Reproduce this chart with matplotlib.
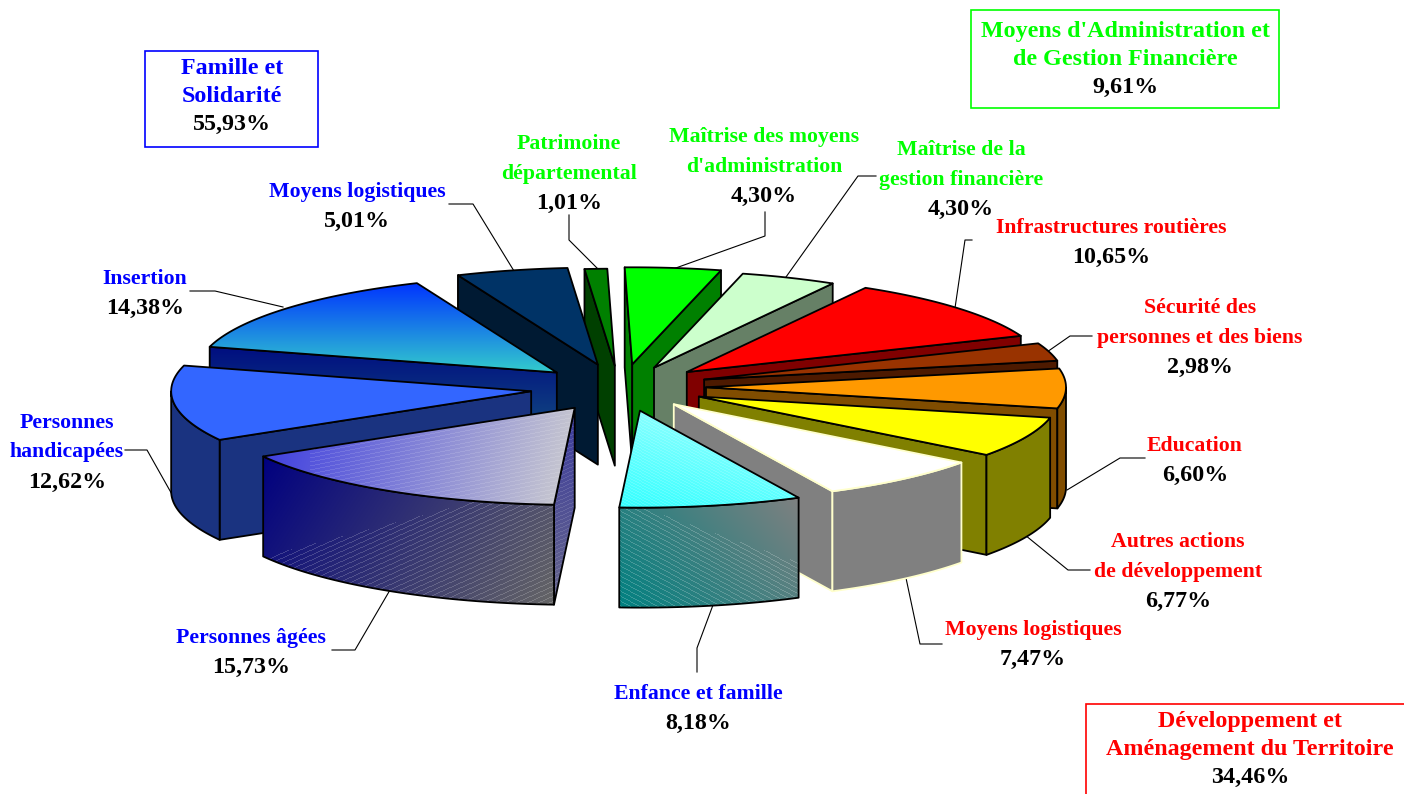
import numpy as np
import matplotlib
matplotlib.use('Agg')
import matplotlib.pyplot as plt
from matplotlib.colors import to_rgb
from matplotlib.patches import Polygon, Rectangle

plt.rcParams['font.family'] = ['Liberation Serif', 'DejaVu Serif']

# slices, clockwise from the top
names = ["Maîtrise des moyens\nd'administration", "Maîtrise de la\ngestion financière",
         "Infrastructures routières", "Sécurité des\npersonnes et des biens", "Education",
         "Autres actions\nde développement", "Moyens logistiques", "Enfance et famille",
         "Personnes âgées", "Personnes\nhandicapées", "Insertion", "Moyens logistiques",
         "Patrimoine\ndépartemental"]
values = [4.30, 4.30, 10.65, 2.98, 6.60, 6.77, 7.47, 8.18, 15.73, 12.62, 14.38, 5.01, 1.01]

groups = ["Famille et\nSolidarité", "Moyens d'Administration et\nde Gestion Financière",
          "Développement et\nAménagement du Territoire"]
group_values = [55.93, 9.61, 34.46]

# style
LIME, BLUE, RED = '#00ff00', '#0000ff', '#ff0000'
text_colors = [LIME, LIME, RED, RED, RED, RED, RED, BLUE, BLUE, BLUE, BLUE, BLUE, LIME]
top_colors = ['#00ff00', '#ccffcc', '#ff0000', '#993300', '#ff9900', '#ffff00', '#ffffff',
              '#66ffff', '#8888dd', '#3366ff', '#1188dd', '#003366', '#008000']
side_colors = ['#008000', '#668066', '#800000', '#4d1a00', '#804d00', '#808000', '#808080',
               '#5a8080', '#444488', '#1a3380', '#001a80', '#001a33', '#004000']
explode = [0.225, 0.215, 0.235, 0.235, 0.225, 0.235, 0.23, 0.28, 0.24, 0.26, 0.25, 0.28, 0.22]
# small extra pull of each slice, pixels
nudge = [(-2, -1), (0, 0), (-2, 0), (-2, -1), (0, 0), (-3, 0), (-4, 0), (-5, -3), (-5, 1),
         (-1, 1), (-0.5, 1.5), (-3, 4), (-6, 0)]
edge_colors = ['k'] * 13
edge_colors[6] = '#ffffcc'

CX, CY = 625, 387
RX, RY = 360, 97
DEPTH = 100
ROT = -1.2

# label centres (x, y of the first line), leader polylines
label_pos = [(764, 137), (961, 150), (1111, 228), (1200, 308), (1195, 446), (1178, 542),
             (1033, 630), (698, 694), (251, 638), (67, 423), (145, 279), (357, 192), (569, 144)]
leaders = [[(765, 212), (765, 236), (673, 269)], [(876, 176), (858, 176), (786, 277)],
           [(972, 240), (965, 240), (955, 308)], [(1092, 336), (1070, 336), (1047, 352)],
           [(1145, 458), (1120, 458), (1067, 490)], [(1090, 570), (1068, 570), (1025, 535)],
           [(942, 644), (920, 644), (906, 578)], [(697, 672), (697, 648), (713, 605)],
           [(332, 650), (355, 650), (390, 590)], [(125, 450), (147, 450), (178, 505)],
           [(190, 291), (215, 291), (283, 307)], [(449, 204), (473, 204), (514, 271)],
           [(569, 215), (569, 240), (597, 268)]]
box_pos = [(145, 51, 173, 96, 232, 69), (971, 10, 308, 98, 1125, 32), (1086, 704, 340, 110, 1250, 722)]
box_colors = [BLUE, LIME, RED]

fig = plt.figure(figsize=(14.04, 7.94), dpi=100)
ax = fig.add_axes([0, 0, 1, 1])
ax.set_autoscale_on(False)
ax.set_xlim(0, 1404)
ax.set_ylim(794, 0)
ax.axis('off')


def pct(v):
    return f"{v:.2f}".replace('.', ',') + '%'


def norm01(a):
    return (a - a.min()) / (a.max() - a.min())


def shade(verts, c0, c1, d, z, stripe=None):
    # gradient (optional fine stripes) clipped to a polygon
    verts = np.array(verts)
    x0, y0 = np.floor(verts.min(axis=0)).astype(int)
    x1, y1 = np.ceil(verts.max(axis=0)).astype(int)
    X, Y = np.meshgrid(np.arange(x0, x1 + 1), np.arange(y0, y1 + 1))
    t = norm01((X - x0) * d[0] + (Y - y0) * d[1])
    img = np.array(to_rgb(c0)) + t[..., None] * (np.array(to_rgb(c1)) - np.array(to_rgb(c0)))
    if stripe:
        slope, period, amt, sd, tmin = stripe
        keep = norm01((X - x0) * sd[0] + (Y - y0) * sd[1]) > tmin
        m = ((Y - slope * X) % period < 1.0) & keep
        img[m] = img[m] * (1 - amt) + amt
    im = ax.imshow(img, extent=(x0 - .5, x1 + .5, y1 + .5, y0 - .5), zorder=z,
                   interpolation='nearest', aspect='auto')
    im.set_clip_path(Polygon(verts, transform=ax.transData))


# gradient faces: slice index -> face -> (start colour, end colour, direction, stripes)
shaded = {
    7: {'top': ('#33ffff', '#aaffff', (0.25, -1), (0.55, 3, 0.15, (1, 0), 0)),
        'arc': ('#008080', '#808080', (1, -0.85), (0.55, 5, 0.2, (-0.35, 1), 0.38))},
    8: {'top': ('#3a3ae0', '#cfcfcf', (1, 0.25), (-0.2, 4, 0.12, (1, 0), 0.15)),
        'arc': ('#000080', '#666666', (1, 0.65), (-0.45, 5, 0.18, (0.26, 1), 0.45)),
        'start': ('#3c3ca0', '#66668a', (0, 1), (-0.45, 4, 0.12, (0, 1), 0))},
    10: {'top': ('#0033ff', '#33cccc', (0, 1), None),
         'start': ('#000d80', '#1a6680', (0, 1), None)},
}


def face(verts, i, kind, base, z):
    spec = shaded.get(i, {}).get(kind)
    if spec:
        shade(verts, spec[0], spec[1], spec[2], z, spec[3])
        ax.add_patch(Polygon(verts, fc='none', ec=edge_colors[i], lw=1.3, zorder=z + 0.5,
                             joinstyle='round'))
    else:
        ax.add_patch(Polygon(verts, fc=base, ec=edge_colors[i], lw=1.3, zorder=z + 0.5,
                             joinstyle='round'))


edges = np.cumsum([0] + values) * 3.6
mids = (edges[:-1] + edges[1:]) / 2


def point(th, rho, i):
    a, m = np.radians(th + ROT), np.radians(mids[i] + ROT)
    e = explode[i]
    return (CX + nudge[i][0] + RX * (rho * np.sin(a) + e * np.sin(m)),
            CY + nudge[i][1] - RY * (rho * np.cos(a) + e * np.cos(m)))


for i in sorted(range(len(values)), key=lambda k: -np.cos(np.radians(mids[k]))):
    z = 10 + 10 * (1 - np.cos(np.radians(mids[i]))) * 5
    th0, th1 = edges[i], edges[i + 1]
    ths = np.linspace(th0, th1, 60)
    apex = point(th0, 0, i)
    down = lambda p: (p[0], p[1] + DEPTH)
    # radial faces turned toward the viewer
    if np.sin(np.radians(th0 + ROT)) < 0:
        p = point(th0, 1, i)
        face([apex, p, down(p), down(apex)], i, 'start', side_colors[i], z)
    if np.sin(np.radians(th1 + ROT)) > 0:
        p = point(th1, 1, i)
        face([apex, p, down(p), down(apex)], i, 'end', side_colors[i], z + 1)
    # outer wall, front half only
    front = ths[np.cos(np.radians(ths + ROT)) < 0]
    if len(front) > 1:
        rim = [point(t, 1, i) for t in front]
        face(rim + [down(p) for p in rim[::-1]], i, 'arc', side_colors[i], z + 2)
    # top
    face([apex] + [point(t, 1, i) for t in ths], i, 'top', top_colors[i], z + 3)

# leaders
for pts in leaders:
    xs, ys = zip(*pts)
    ax.plot(xs, ys, color='k', lw=0.8, zorder=2)

LINE = 29.5
FS = 15.7
FS_BIG = 17.3
for name, v, col, (x, y) in zip(names, values, text_colors, label_pos):
    lines = name.split('\n')
    for j, s in enumerate(lines):
        ax.text(x, y + j * LINE, s, color=col, fontsize=FS, fontweight='bold', ha='center', va='center', zorder=200)
    ax.text(x, y + len(lines) * LINE, pct(v), color='k', fontsize=FS_BIG, fontweight='bold', ha='center', va='center', zorder=200)

for name, v, col, (bx, by, bw, bh, tx, ty) in zip(groups, group_values, box_colors, box_pos):
    ax.add_patch(Rectangle((bx, by), bw, bh, fc='white', ec=col, lw=1.2, zorder=150))
    lines = name.split('\n')
    for j, s in enumerate(lines):
        ax.text(tx, ty + j * 27.5, s, color=col, fontsize=FS_BIG, fontweight='bold', ha='center', va='center', zorder=200)
    ax.text(tx, ty + len(lines) * 27.5, pct(v), color='k', fontsize=FS_BIG, fontweight='bold', ha='center', va='center', zorder=200)

fig.savefig('out.png', dpi=100)
